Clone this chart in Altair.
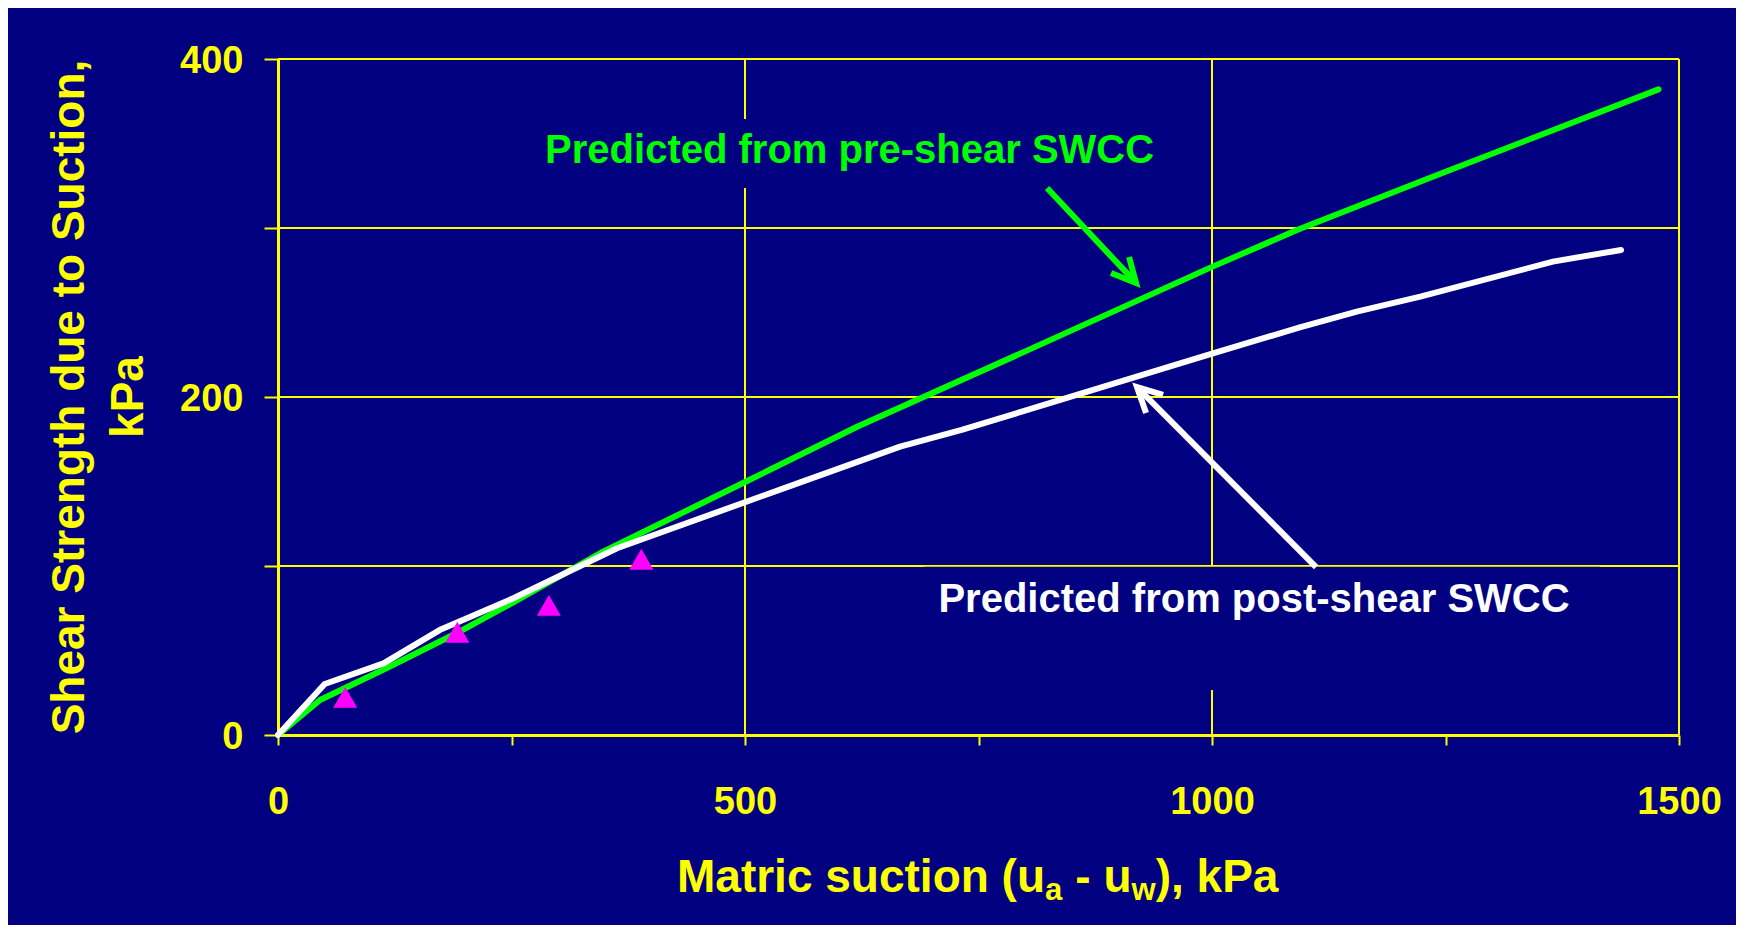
import altair as alt
import pandas as pd

# ---------------- data ----------------
# Predicted from pre-shear SWCC (green)
pre_x = [0, 45, 116, 191, 252, 348, 505, 620, 800, 1000, 1091, 1237, 1478]
pre_y = [0, 20.7, 39.5, 60.2, 78.5, 108.5, 151.0, 182.4, 227.0, 277.0, 298.8, 330.5, 382.0]

# Predicted from post-shear SWCC (white)
post_x = [0, 50, 113, 173, 252, 363, 548, 666, 732, 1001, 1094, 1155, 1223, 1365, 1438]
post_y = [0, 30.2, 42.4, 62.1, 80.9, 110.5, 147.3, 170.6, 180.5, 225.8, 241.2, 250.5, 259.4, 280.1, 287.0]

# Measured points (magenta triangles)
meas_x = [72, 192, 290, 389]
meas_y = [22.3, 60.8, 76.7, 104.0]

# Axis ticks / grid
x_ticks = [0, 250, 500, 750, 1000, 1250, 1500]
y_ticks = [0, 100, 200, 300, 400]
x_grid = [500, 1000, 1500]
y_grid = [100, 200, 300, 400]

# Annotation texts
pre_label = "Predicted from pre-shear SWCC"
post_label = "Predicted from post-shear SWCC"
y_title = ["Shear Strength due to Suction,", "kPa"]
x_title = ["Matric suction (u", "a", "- u", "w", "), kPa"]

# Annotation anchors (data units)
pre_label_at = (612, 338.5)
post_label_at = (1045, 72.8)
pre_box = (270, 955, 323.7, 364.5)
post_box = (692, 1415, 26.6, 99.5)
pre_arrow_x = [823.4, 918.7, 911.2, 918.7, 891.9]
pre_arrow_y = [323.7, 267.5, 282.8, 267.5, 273.4]
post_arrow_x = [1111.4, 919.7, 929.4, 919.7, 947.6]
post_arrow_y = [99.4, 205.9, 190.5, 205.9, 201.2]
arrow_part = ["shaft", "shaft", "head", "head", "head"]
arrow_seq = [0, 1, 0, 1, 2]

# ---------------- styling ----------------
NAVY = "#000080"
YELLOW = "#FFFF00"
GREEN = "#00FF00"
WHITE = "#FFFFFF"
MAGENTA = "#FF00FF"
FONT = "Liberation Sans"

XS = alt.Scale(domain=[0, 1500], nice=False, zero=True)
YS = alt.Scale(domain=[0, 400], nice=False, zero=True)

x_axis = alt.Axis(
    values=x_ticks, format="d", title=None, grid=False,
    labelExpr="datum.value % 500 === 0 ? datum.label : ''",
    domainColor=YELLOW, domainWidth=3, tickColor=YELLOW, tickWidth=2, tickSize=10,
    labelColor=YELLOW, labelFont=FONT, labelFontSize=38, labelFontWeight="bold",
    labelPadding=38, labelFlush=False, labelOverlap=False,
)
y_axis = alt.Axis(
    values=y_ticks, format="d", title=None, grid=False,
    labelExpr="datum.value % 200 === 0 ? datum.label : ''",
    domainColor=YELLOW, domainWidth=3, tickColor=YELLOW, tickWidth=2, tickSize=14,
    labelColor=YELLOW, labelFont=FONT, labelFontSize=38, labelFontWeight="bold",
    labelPadding=21, labelFlush=False, labelOverlap=False, labelOffset=2,
)


def X(field):
    return alt.X(field, scale=XS, axis=x_axis)


def Y(field):
    return alt.Y(field, scale=YS, axis=y_axis)


# grid
vgrid = alt.Chart(pd.DataFrame({"v": x_grid})).mark_rule(color=YELLOW, strokeWidth=2).encode(x=X("v:Q"))
hgrid = alt.Chart(pd.DataFrame({"v": y_grid})).mark_rule(color=YELLOW, strokeWidth=2).encode(y=Y("v:Q"))

# label background boxes (hide gridlines behind labels)
boxes = alt.Chart(pd.DataFrame({
    "x": [pre_box[0], post_box[0]], "x2": [pre_box[1], post_box[1]],
    "y": [pre_box[2], post_box[2]], "y2": [pre_box[3], post_box[3]],
})).mark_rect(color=NAVY).encode(x=X("x:Q"), x2="x2:Q", y=Y("y:Q"), y2="y2:Q")

pre_line = alt.Chart(pd.DataFrame({"x": pre_x, "y": pre_y})).mark_line(
    color=GREEN, strokeWidth=6, strokeCap="round", strokeJoin="round").encode(x=X("x:Q"), y=Y("y:Q"))

post_line = alt.Chart(pd.DataFrame({"x": post_x, "y": post_y})).mark_line(
    color=WHITE, strokeWidth=6, strokeCap="round", strokeJoin="round").encode(x=X("x:Q"), y=Y("y:Q"))

meas = alt.Chart(pd.DataFrame({"x": meas_x, "y": meas_y})).mark_point(
    shape="triangle-up", filled=True, color=MAGENTA, opacity=1, size=580, strokeWidth=0).encode(
    x=X("x:Q"), y=Y("y:Q"))


def arrow(xs, ys, color):
    df = pd.DataFrame({"x": xs, "y": ys, "part": arrow_part, "seq": arrow_seq})
    return alt.Chart(df).mark_line(color=color, strokeWidth=6, strokeCap="butt", strokeJoin="miter").encode(
        x=X("x:Q"), y=Y("y:Q"), detail="part:N", order="seq:Q")


pre_arrow = arrow(pre_arrow_x, pre_arrow_y, GREEN)
post_arrow = arrow(post_arrow_x, post_arrow_y, WHITE)


def data_text(text, at, color):
    return alt.Chart(pd.DataFrame({"t": [text], "x": [at[0]], "y": [at[1]]})).mark_text(
        font=FONT, fontSize=40, fontWeight="bold", color=color, align="center", baseline="alphabetic").encode(
        x=X("x:Q"), y=Y("y:Q"), text="t:N")


def px_text(text, px, py, size, angle=0, align="left"):
    return alt.Chart(pd.DataFrame({"t": [text]})).mark_text(
        font=FONT, fontSize=size, fontWeight="bold", color=YELLOW, align=align,
        baseline="alphabetic", angle=angle).encode(
        x=alt.value(px), y=alt.value(py), text="t:N")


# plot origin is at page (278, 59)
ytitle1 = px_text(y_title[0], -194, 338, 46, angle=270, align="center")
ytitle2 = px_text(y_title[1], -135, 338, 46, angle=270, align="center")
xt = [
    px_text(x_title[0], 677 - 278, 892 - 59, 46),
    px_text(x_title[1], 1045 - 278, 900 - 59, 31),
    px_text(x_title[2], 1075.3 - 278, 892 - 59, 46),
    px_text(x_title[3], 1131.5 - 278, 900 - 59, 31),
    px_text(x_title[4], 1155.7 - 278, 892 - 59, 46),
]

chart = alt.layer(
    vgrid, hgrid, boxes, pre_line, post_line, meas, pre_arrow, post_arrow,
    data_text(pre_label, pre_label_at, GREEN), data_text(post_label, post_label_at, WHITE),
    ytitle1, ytitle2, *xt,
).properties(
    width=1401, height=676,
    autosize=alt.AutoSizeParams(type="none"),
    padding={"left": 270, "top": 51, "right": 57, "bottom": 190},
).configure(background=NAVY).configure_view(stroke=None)

chart.save("out.html", embed_options={"renderer": "svg", "actions": False})
